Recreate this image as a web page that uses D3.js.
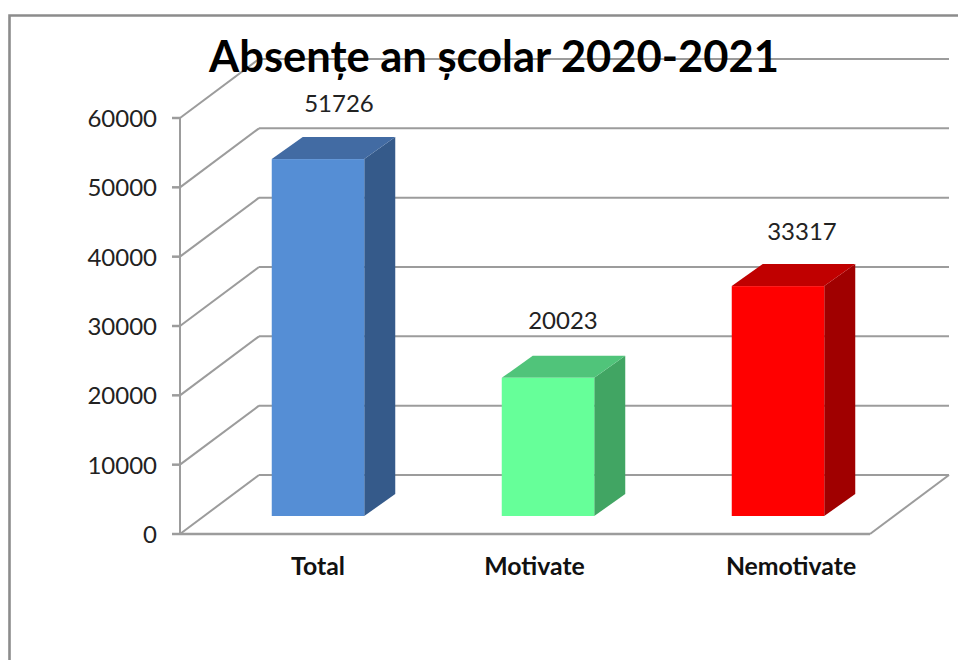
<!DOCTYPE html>
<html><head><meta charset="utf-8">
<script src="https://cdnjs.cloudflare.com/ajax/libs/d3/7.8.5/d3.min.js"></script>
<style>html,body{margin:0;padding:0;background:#fff}svg{display:block}text{font-family:Lato,"Open Sans",sans-serif}</style>
</head><body><svg id="c" width="958" height="660"></svg>
<script>
const titleText = "Absențe an școlar 2020-2021";
const categories = ["Total","Motivate","Nemotivate"];
const values = [51726,20023,33317];
const tickValues = [0,10000,20000,30000,40000,50000,60000];
const frontColors = ["#558ed5","#66ff99","#ff0000"];
const topColors = ["#426ba3","#50c47a","#c00000"];
const sideColors = ["#355a8a","#41a563","#a00000"];

const svg = d3.select("#c");
const grid = "#9c9c9c";
const X0 = 180, X1 = 870, Y0 = 534, Y1 = 118, DX = 79, DY = -59;
const y = d3.scaleLinear().domain([0,60000]).range([Y0,Y1]);
const x = d3.scaleBand().domain(categories).range([X0,X1]).paddingInner(0).paddingOuter(0);
const barW = 92.5, barDX = 31, barDY = -22, barLiftX = 23, barLift = 18;
const yBar = d3.scaleLinear().domain([0,60000]).range([Y0-barLift,Y0-barLift-414]);
// hand placement of labels relative to their bars
const valueNudgeX = [1,-5,4], valueNudgeY = [0,-2,1];
const catNudgeX = [0,-13.5,13];

// chart frame
svg.append("path").attr("d","M9.5,660V15.5H958").attr("fill","none").attr("stroke","#8c8c8c").attr("stroke-width",2.6);

const line = (a,b,c,d,w=2)=>svg.append("line").attr("x1",a).attr("y1",b).attr("x2",c).attr("y2",d).attr("stroke",grid).attr("stroke-width",w);

// gridlines: wall + side wall
tickValues.forEach(t=>{
  const yy = y(t);
  line(X0,yy,X0+DX,yy+DY);
  line(X0+DX,yy+DY,X1+DX,yy+DY);
  line(X0-8,yy,X0,yy,2.5);
});
// axis lines and floor
line(X0,Y0,X0,Y1);
line(X0,Y0,X1,Y0,2.5);
line(X1,Y0,X1+DX,Y0+DY);

// tick labels
svg.append("g").selectAll("text").data(tickValues).join("text")
  .attr("x",X0-23).attr("y",d=>y(d)+9).attr("text-anchor","end")
  .attr("font-size",24).attr("fill","#222").text(d=>d);

// bars
const g = svg.append("g").selectAll("g").data(categories).join("g");
const left = (d)=> x(d)+x.bandwidth()/2+barLiftX-barW/2;
g.append("path").attr("fill",(d,i)=>sideColors[i]).attr("d",(d,i)=>{
  const r=left(d)+barW,t=yBar(values[i]),b=yBar(0);
  return `M${r},${t}L${r+barDX},${t+barDY}V${b+barDY}L${r},${b}Z`;
});
g.append("path").attr("fill",(d,i)=>topColors[i]).attr("d",(d,i)=>{
  const l=left(d),t=yBar(values[i]);
  return `M${l},${t}L${l+barDX},${t+barDY}H${l+barW+barDX}L${l+barW},${t}Z`;
});
g.append("rect").attr("fill",(d,i)=>frontColors[i])
  .attr("x",d=>left(d)).attr("width",barW)
  .attr("y",(d,i)=>yBar(values[i])).attr("height",(d,i)=>yBar(0)-yBar(values[i]));

// value labels
g.append("text").attr("text-anchor","middle").attr("font-size",24).attr("fill","#222")
  .attr("x",(d,i)=>left(d)+barW/2+20+valueNudgeX[i])
  .attr("y",(d,i)=>yBar(values[i])-47+valueNudgeY[i]).text((d,i)=>values[i]);

// category labels
g.append("text").attr("text-anchor","middle").attr("font-size",24.8).attr("font-weight",700).attr("fill","#111")
  .attr("x",(d,i)=>x(d)+x.bandwidth()/2+23+catNudgeX[i]).attr("y",575).text(d=>d);

// title
svg.append("text").attr("x",494).attr("y",72).attr("text-anchor","middle")
  .attr("font-size",43.5).attr("font-weight",700).attr("fill","#000").text(titleText);
</script></body></html>
